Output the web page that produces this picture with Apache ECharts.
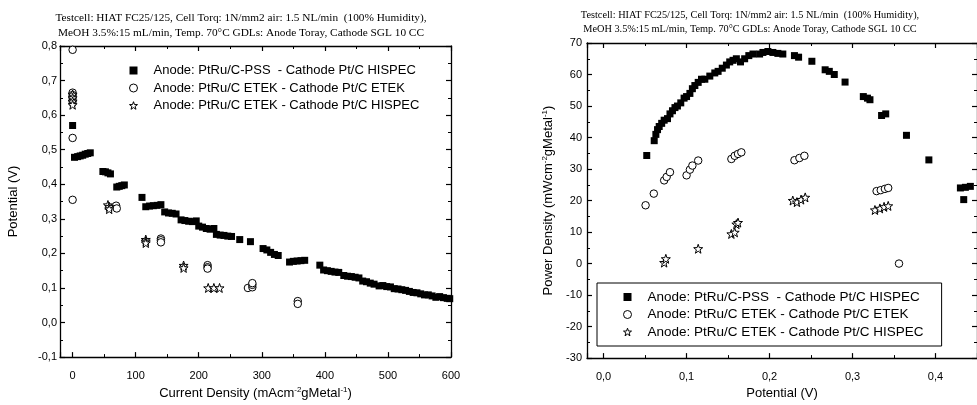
<!DOCTYPE html>
<html>
<head>
<meta charset="utf-8">
<script src="https://cdn.jsdelivr.net/npm/echarts@6/dist/echarts.min.js"></script>
<style>
  html, body { margin: 0; padding: 0; background: #fff; }
  #chart { width: 977px; height: 405px; }
</style>
</head>
<body>
<div id="chart"></div>
<script>
const nameA = "Anode: PtRu/C-PSS  - Cathode Pt/C HISPEC";
const nameB = "Anode: PtRu/C ETEK - Cathode Pt/C ETEK";
const nameC = "Anode: PtRu/C ETEK - Cathode Pt/C HISPEC";
const titleText = "Testcell: HIAT FC25/125, Cell Torq: 1N/mm2 air: 1.5 NL/min  (100% Humidity),\nMeOH 3.5%:15 mL/min, Temp. 70°C GDLs: Anode Toray, Cathode SGL 10 CC";

// current density (mA cm-2 gMetal-1) vs potential (V)
const pssPolarization = [
  [0, 0.570], [3, 0.478], [8, 0.480], [12, 0.482], [16, 0.484], [20, 0.487], [24, 0.489], [28, 0.491],
  [48, 0.437], [52, 0.436], [56, 0.433], [60, 0.430],
  [70, 0.392], [74, 0.394], [78, 0.396], [82, 0.398],
  [110, 0.362],
  [116, 0.335], [122, 0.337], [128, 0.338], [134, 0.339], [140, 0.341],
  [146, 0.320], [152, 0.317], [158, 0.316], [164, 0.314],
  [172, 0.297], [178, 0.295], [184, 0.293], [190, 0.292], [196, 0.294],
  [200, 0.279], [206, 0.276], [212, 0.272], [218, 0.270], [224, 0.272],
  [228, 0.255], [234, 0.253], [240, 0.252], [246, 0.250], [252, 0.249],
  [265, 0.240], [282, 0.234],
  [302, 0.214], [308, 0.210], [314, 0.203], [320, 0.197], [326, 0.194],
  [344, 0.175], [350, 0.177], [356, 0.178], [362, 0.179], [368, 0.180],
  [392, 0.166], [398, 0.152], [404, 0.150], [410, 0.148], [416, 0.146], [422, 0.145],
  [430, 0.136], [436, 0.134], [442, 0.133], [448, 0.131], [454, 0.129],
  [460, 0.120], [466, 0.118], [472, 0.114], [478, 0.111],
  [486, 0.106], [492, 0.107], [498, 0.104], [504, 0.103], [510, 0.098],
  [516, 0.097], [522, 0.095], [528, 0.093], [534, 0.090], [540, 0.087],
  [546, 0.086], [552, 0.083], [558, 0.080], [564, 0.080], [570, 0.077],
  [576, 0.073], [582, 0.075], [588, 0.072], [594, 0.070], [598, 0.069]
];
const etekPolarization = [
  [0, 0.789], [0, 0.665], [0, 0.658], [0, 0.650], [0, 0.640], [0, 0.534], [0, 0.355],
  [69, 0.338], [70, 0.330],
  [140, 0.243], [140, 0.238], [140, 0.232],
  [214, 0.166], [214, 0.160], [214, 0.156],
  [278, 0.100], [285, 0.102], [285, 0.109], [285, 0.114],
  [357, 0.062], [357, 0.054]
];
const hispecPolarization = [
  [0, 0.660], [0, 0.650], [0, 0.640], [0, 0.630],
  [56, 0.340], [58, 0.335], [58, 0.328],
  [116, 0.240], [116, 0.235], [116, 0.230],
  [176, 0.165], [176, 0.158],
  [215, 0.100], [224, 0.100], [233, 0.100]
];

// potential (V) vs power density (mW cm-2 gMetal-1)
const pssPower = [
  [0.052, 34.3], [0.061, 39], [0.063, 41], [0.065, 42.5], [0.067, 43.5], [0.070, 44.5], [0.073, 45.5], [0.077, 46], [0.080, 47.5],
  [0.083, 48.5], [0.086, 49.5], [0.089, 50], [0.093, 51], [0.097, 52.5],
  [0.100, 53], [0.104, 54], [0.107, 55.5], [0.110, 56.5], [0.114, 57.5],
  [0.118, 58.5], [0.122, 58.5], [0.128, 59.5], [0.134, 60.5], [0.138, 61],
  [0.143, 62], [0.148, 63], [0.152, 64], [0.156, 64.5], [0.160, 65],
  [0.165, 64], [0.170, 65], [0.175, 66], [0.180, 66.5],
  [0.188, 66.5], [0.192, 67], [0.198, 67.3], [0.204, 67], [0.210, 66.7], [0.216, 66.5],
  [0.230, 66], [0.235, 65.5], [0.251, 64.2],
  [0.267, 61.5], [0.272, 61], [0.278, 60], [0.291, 57.6],
  [0.313, 53], [0.318, 52.5], [0.321, 52], [0.335, 47], [0.340, 47.5],
  [0.365, 40.7], [0.392, 32.9], [0.430, 24], [0.436, 24.2], [0.442, 24.5], [0.434, 20.3]
];
const etekPower = [
  [0.0506, 18.5], [0.0605, 22.2], [0.073, 26.4], [0.076, 27.5], [0.080, 29],
  [0.100, 28], [0.104, 29.8], [0.107, 31.1], [0.114, 32.7],
  [0.154, 33.2], [0.158, 34.2], [0.162, 34.8], [0.166, 35.3],
  [0.230, 32.8], [0.236, 33.5], [0.242, 34.2],
  [0.329, 23], [0.334, 23.3], [0.339, 23.7], [0.343, 24],
  [0.356, 0]
];
const hispecPower = [
  [0.073, 0.3], [0.075, 1.5], [0.114, 4.7], [0.154, 9.4], [0.158, 9.9], [0.160, 12.5], [0.162, 13],
  [0.228, 20], [0.233, 19.5], [0.238, 20.3], [0.243, 21],
  [0.327, 17], [0.333, 17.5], [0.338, 18], [0.343, 18.3]
];

const starPath = "path://M0,-10L2.35,-3.24L9.51,-3.09L3.8,1.24L5.88,8.09L0,4L-5.88,8.09L-3.8,1.24L-9.51,-3.09L-2.35,-3.24Z";
const sans = "Liberation Sans";
const comma = (v, d) => v.toFixed(d).replace(".", ",");
const hollow = { color: "#fff", borderColor: "#000", borderWidth: 1, opacity: 1 };

function axisBase(extra) {
    return Object.assign({
        type: "value",
        axisLine: { show: true, onZero: false, lineStyle: { color: "#000", width: 1.3 } },
        axisTick: { show: true, inside: true, length: 5, lineStyle: { color: "#000", width: 1.2 } },
        minorTick: { show: true, splitNumber: 2, length: 3, lineStyle: { color: "#000", width: 1 } },
        splitLine: { show: false },
        axisLabel: { color: "#000", fontFamily: sans, fontSize: 11 },
        nameTextStyle: { color: "#000", fontFamily: sans, fontSize: 13 }
    }, extra);
}

const supRich = {
    sup: { fontSize: 8, fontFamily: sans, color: "#000", padding: [0, 0, 7, 0] }
};

function scatter(name, data, xi, shape) {
    const s = {
        name: name,
        type: "scatter",
        xAxisIndex: xi,
        yAxisIndex: xi,
        data: data,
        symbol: "rect",
        symbolSize: 7,
        itemStyle: { color: "#000", opacity: 1 }
    };
    if (shape === "circle") {
        s.symbol = "circle";
        s.symbolSize = 7.5;
        s.itemStyle = hollow;
    } else if (shape === "star") {
        s.symbol = starPath;
        s.symbolSize = 9;
        s.itemStyle = hollow;
    }
    return s;
}

// legend entries with the same marker look as the points
const legendItems = [
    { name: nameA, icon: "rect", itemStyle: { color: "#000", borderWidth: 0 } },
    { name: nameB, icon: "circle", itemStyle: hollow },
    { name: nameC, icon: starPath, itemStyle: hollow }
];

const chart = echarts.init(document.getElementById("chart"));

chart.setOption({
    animation: false,
    backgroundColor: "#fff",
    graphic: [
        {
            type: "text", x: 241, y: 10.5,
            style: { text: titleText, textAlign: "center", textVerticalAlign: "top",
                fontFamily: "Liberation Serif", fontSize: 11.3, lineHeight: 15, fill: "#000" }
        },
        {
            type: "text", x: 750, y: 8,
            style: { text: titleText, textAlign: "center", textVerticalAlign: "top",
                fontFamily: "Liberation Serif", fontSize: 10.3, lineHeight: 14, fill: "#000" }
        }
    ],
    legend: [
        {
            data: legendItems,
            orient: "vertical",
            left: 129, top: 63,
            padding: 0,
            itemWidth: 8, itemHeight: 8, itemGap: 2.5,
            selectedMode: false,
            textStyle: { fontFamily: sans, fontSize: 13, color: "#000", lineHeight: 15, padding: [0, 0, 0, 11] }
        },
        {
            data: legendItems,
            orient: "vertical",
            left: 597, top: 283,
            padding: [6.5, 18, 6.5, 26],
            borderColor: "#000", borderWidth: 1, borderRadius: 0,
            backgroundColor: "#fff",
            itemWidth: 8, itemHeight: 8, itemGap: 2.5,
            selectedMode: false,
            textStyle: { fontFamily: sans, fontSize: 13.5, color: "#000", lineHeight: 15, padding: [0, 0, 0, 11] }
        }
    ],
    grid: [
        { left: 60, top: 46, width: 391, height: 318 },
        { left: 587, top: 43, right: -4, height: 320 }
    ],
    xAxis: [
        axisBase({
            gridIndex: 0, position: "bottom", min: -20, max: 600, splitNumber: 6,
            axisLabel: { color: "#000", fontFamily: sans, fontSize: 11, margin: 13, showMinLabel: false },
            name: "Current Density (mAcm{sup|-2}gMetal{sup|-1})",
            nameLocation: "middle", nameGap: 25,
            nameTextStyle: { color: "#000", fontFamily: sans, fontSize: 13, rich: supRich }
        }),
        axisBase({
            gridIndex: 0, position: "top", min: -20, max: 600, splitNumber: 6,
            axisLabel: { show: false }
        }),
        axisBase({
            gridIndex: 1, position: "bottom", min: -0.02, max: 0.45, splitNumber: 5,
            axisLabel: { color: "#000", fontFamily: sans, fontSize: 11, margin: 13,
                showMinLabel: false, showMaxLabel: false, formatter: v => comma(v, 1) },
            name: "Potential (V)", nameLocation: "middle", nameGap: 26
        }),
        axisBase({
            gridIndex: 1, position: "top", min: -0.02, max: 0.45, splitNumber: 5,
            axisLabel: { show: false }
        })
    ],
    yAxis: [
        axisBase({
            gridIndex: 0, position: "left", min: -0.1, max: 0.8, interval: 0.1,
            axisLabel: { color: "#000", fontFamily: sans, fontSize: 11, margin: 3, formatter: v => comma(v, 1) },
            name: "Potential (V)", nameLocation: "middle", nameGap: 40
        }),
        axisBase({
            gridIndex: 0, position: "right", min: -0.1, max: 0.8, interval: 0.1,
            axisLabel: { show: false }
        }),
        axisBase({
            gridIndex: 1, position: "left", min: -30, max: 70, interval: 10,
            axisLabel: { color: "#000", fontFamily: sans, fontSize: 11, margin: 5 },
            name: "Power Density (mWcm{sup|-2}gMetal{sup|-1})",
            nameLocation: "middle", nameGap: 31,
            nameTextStyle: { color: "#000", fontFamily: sans, fontSize: 13, rich: supRich }
        }),
        axisBase({
            gridIndex: 1, position: "right", min: -30, max: 70, interval: 10,
            axisLabel: { show: false }
        })
    ],
    series: [
        scatter(nameA, pssPolarization, 0, "rect"),
        scatter(nameB, etekPolarization, 0, "circle"),
        scatter(nameC, hispecPolarization, 0, "star"),
        scatter(nameA, pssPower, 2, "rect"),
        scatter(nameB, etekPower, 2, "circle"),
        scatter(nameC, hispecPower, 2, "star")
    ]
});
</script>
</body>
</html>
